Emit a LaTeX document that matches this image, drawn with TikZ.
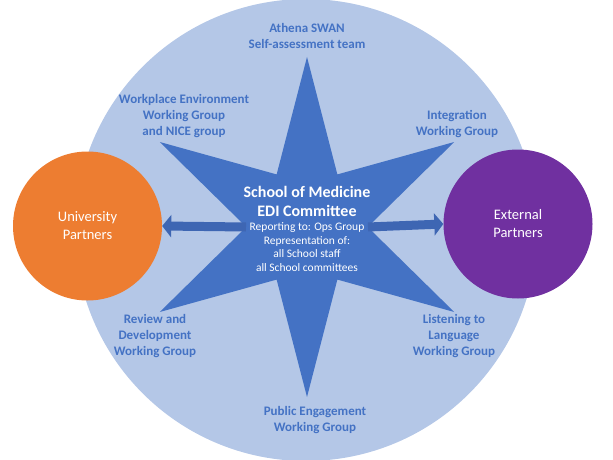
\documentclass[tikz,border=0pt]{standalone}
\usepackage{xcolor}
\usepackage{fontspec}
\setmainfont{Carlito}
\usetikzlibrary{shapes.geometric, arrows.meta, positioning}

\definecolor{ringblue}{HTML}{B4C7E7}
\definecolor{starblue}{HTML}{4472C4}
\definecolor{arrowblue}{HTML}{3E66B3}
\definecolor{uniorange}{HTML}{ED7D31}
\definecolor{extpurple}{HTML}{7030A0}

\begin{document}
\begin{tikzpicture}[x=1pt, y=-1pt, arrow/.style = {line width=9pt, draw=arrowblue, -{Triangle[length=9pt, width=22pt]}}]
	\tikzset{group/.style={text=starblue, font=\bfseries\fontsize{13}{16}\selectfont, align=center}}
	\tikzset{partner/.style={circle, minimum size=149pt, inner sep=0pt, text=white, align=center, font=\fontsize{14.5}{18}\selectfont}}
	\useasboundingbox (0,0) rectangle (613,460);

	% Background
	\node[circle, fill=ringblue, minimum size=462pt, inner sep=0pt] (ring) at (306,230) {};

	% Committee
	\node[star, star points=6, star point ratio=2.8, minimum size=340pt, inner sep=0pt, fill=starblue] (star) at (307,227) {};
	\node[text=white, align=center, font=\bfseries\fontsize{16}{19}\selectfont] (edi) at (307,201.5) {School of Medicine\\EDI Committee};
	\node[text=white, align=center, font=\fontsize{11.5}{13.5}\selectfont] (remit) at (307,247) {Reporting to: Ops Group\\Representation of:\\all School staff\\all School committees};

	% Partners
	\node[partner, fill=uniorange] (univ) at (87.5,226) {University\\Partners};
	\node[partner, fill=extpurple] (ext) at (518,224) {External\\Partners};

	\draw [arrow] (star.west) -- (univ.east);
	\draw [arrow] (star.east) -- (ext.west);

	% Working groups
	\node[group] (athena) at (307,36) {Athena SWAN\\Self-assessment team};
	\node[group] (workplace) at (184,116) {Workplace Environment\\Working Group\\and NICE group};
	\node[group] (integration) at (457,124.5) {Integration\\Working Group};
	\node[group] (review) at (155,336) {Review and\\Development\\Working Group};
	\node[group] (listening) at (454,336) {Listening to\\Language\\Working Group};
	\node[group] (public) at (315,420) {Public Engagement\\Working Group};

\end{tikzpicture}
\end{document}
